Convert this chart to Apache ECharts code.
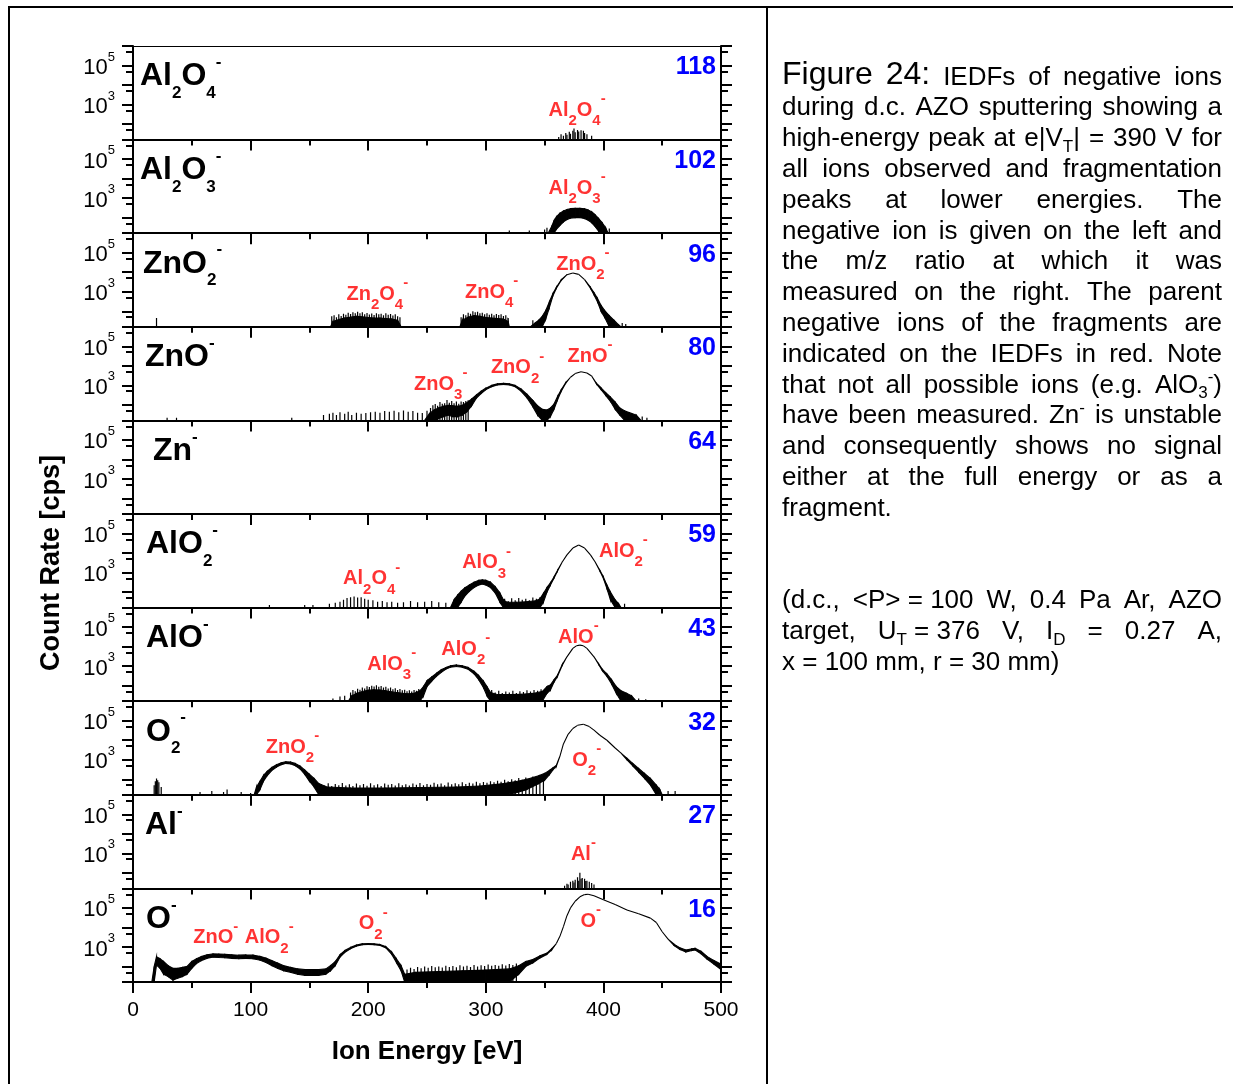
<!DOCTYPE html>
<html><head><meta charset="utf-8">
<script src="https://cdn.jsdelivr.net/npm/echarts@6/dist/echarts.min.js"></script>
<style>html,body{margin:0;padding:0;background:#fff}#c{width:1233px;height:1084px}</style>
</head><body><div id="c"></div>
<script>
// ---------------- DATA ----------------
const energyTicks = [0, 100, 200, 300, 400, 500];
const yLabelValues = [1e3, 1e5];
const yLabelExp = ['3', '5'];
const yMajorTicks = [16, 100, 1e3, 1e4, 1e5, 1e6];
const yMinorTicks = [50, 500, 5e3, 5e4, 5e5];

const ionNames = ['Al{s|2}O{s|4}{u|-}', 'Al{s|2}O{s|3}{u|-}', 'ZnO{s|2}{u|-}', 'ZnO{u|-}', 'Zn{u|-}',
  'AlO{s|2}{u|-}', 'AlO{u|-}', 'O{s|2}{u|-}', 'Al{u|-}', 'O{u|-}'];
const massToCharge = ['118', '102', '96', '80', '64', '59', '43', '32', '27', '16'];

// bands: [energy eV, upper count rate, lower count rate] (lower omitted = same as upper)
const band0 = [];
const band1 = [[353,16,16],[356,35,16],[358,70,16],[360,110,25],[363,170,40],[366,220,60],[369,260,80],[372,290,95],[376,300,100],[380,300,100],[384,285,90],[387,250,75],[390,200,55],[393,140,35],[396,90,20],[399,55,16],[402,30,16],[404,16,16]];
const band2 = [[168,16,16],[170,30,16],[175,38,16],[180,45,16],[185,50,16],[190,55,16],[195,52,16],[200,48,16],[205,45,16],[210,45,16],[215,42,16],[220,40,16],[225,35,16],[228,16,16],
  [278,16,16],[280,35,16],[285,50,16],[290,60,16],[295,55,16],[300,48,16],[305,45,16],[310,42,16],[315,40,16],[319,30,16],[320,16,16],
  [338,16,16],[342,25,16],[345,35,16],[348,55,16],[351,110,40],[354,300,150],[357,800,600],[360,1700,1500],[364,4000,3700],[369,7500],[374,9100],[379,7800],[384,4200],[389,1700,1500],[392,900,700],[395,450,300],[398,200,100],[401,110,50],[405,60,16],[409,35,16],[413,20,16],[415,16,16]];
const band3 = [[248,16,16],[252,35,16],[256,55,16],[260,70,20],[264,85,25],[268,95,30],[272,90,25],[276,85,25],[280,95,30],[284,130,45],[288,200,90],[292,320,220],[296,500,380],[300,720,600],[305,1000,850],[310,1200,1050],[315,1260,1100],[320,1200,1050],[325,1000,850],[330,650,500],[335,350,230],[340,170,80],[344,90,30],[348,60,16],[352,55,16],[355,70,25],[358,110,60],[361,270,180],[364,580,480],[368,1400,1300],[372,2600],[376,4000],[381,5000],[386,4300],[390,3000],[394,1300,1200],[398,750,600],[402,420,300],[406,250,150],[410,140,60],[414,70,30],[418,50,16],[422,40,16],[428,30,16],[432,16,16]];
const band4 = [];
const band5 = [[270,16,16],[273,40,16],[276,70,16],[279,110,30],[282,160,60],[286,230,110],[290,320,170],[294,400,230],[297,420,260],[300,400,230],[304,320,170],[308,190,90],[312,90,30],[315,40,16],[318,30,16],[326,30,16],[334,32,16],[342,35,16],[346,45,16],[349,85,30],[352,170,100],[355,300,230],[358,600,520],[361,1300,1200],[365,3500],[369,8000],[374,18000],[379,25700],[384,18000],[389,8000],[393,3500],[397,1300,1200],[400,600,500],[403,230,150],[406,100,40],[410,40,16],[413,25,16],[415,16,16]];
const band6 = [[183,16,16],[186,30,16],[190,40,16],[195,50,16],[200,58,16],[205,62,16],[210,60,16],[215,55,16],[220,48,16],[225,44,16],[230,40,16],[235,38,16],[240,42,16],[244,55,16],[247,90,30],[250,180,90],[254,280,170],[258,430,300],[262,650,480],[266,850,700],[270,1050,880],[275,1150,950],[280,1050,880],[285,850,700],[290,550,400],[294,330,200],[298,170,80],[301,90,30],[304,45,16],[310,35,16],[320,35,16],[330,36,16],[340,40,16],[348,50,16],[352,90,40],[355,110,60],[358,200,150],[361,350,300],[365,1200,1100],[369,3000],[374,8100],[377,11000],[380,12000],[383,11000],[386,8100],[392,3000],[396,1300,1200],[399,700,600],[403,400,300],[407,200,120],[411,90,40],[415,55,16],[420,40,16],[424,30,16],[428,16,16]];
const band7 = [[103,16,16],[105,40,16],[108,80,30],[111,160,80],[114,250,150],[118,400,280],[122,560,420],[126,700,560],[130,790,650],[134,760,620],[138,650,500],[142,480,340],[146,300,180],[150,180,80],[154,110,40],[158,60,16],[165,40,16],[185,36,16],[215,36,16],[245,38,16],[275,40,16],[295,45,16],[315,60,16],[325,75,20],[335,100,30],[345,150,60],[350,200,90],[354,280,170],[357,380,300],[360,520,460],[363,1500],[366,6500],[370,20000],[374,40000],[378,58000],[383,66000],[388,50000],[392,33000],[397,18000],[403,10000],[410,4000],[415,2200],[420,1200,1000],[425,650,480],[430,360,230],[435,200,110],[440,110,50],[445,50,16],[448,30,16],[450,16,16]];
const band8 = [];
const band9 = [[16,16,16],[18,100,16],[20,320,120],[23,250,80],[26,180,40],[30,110,30],[34,80,20],[38,80,25],[42,90,30],[46,100,40],[50,180,80],[54,250,140],[58,320,200],[63,400,260],[68,440,300],[73,430,290],[78,420,280],[84,400,260],[90,380,250],[96,390,260],[102,380,250],[108,330,210],[113,270,160],[118,200,110],[123,150,80],[128,110,60],[134,90,50],[140,75,40],[146,70,35],[152,70,35],[158,70,35],[164,75,40],[168,110,60],[172,180,110],[176,400,300],[180,650,520],[185,950,820],[190,1250,1100],[195,1450,1300],[200,1500,1350],[205,1450,1300],[210,1350,1200],[215,1050,900],[220,550,420],[224,250,160],[228,110,60],[231,40,16],[240,50,16],[260,55,16],[280,60,16],[300,65,16],[320,75,16],[328,110,40],[334,180,100],[340,230,150],[346,350,270],[352,480,420],[356,800,700],[360,1500],[363,3500],[366,11000],[369,40000],[372,100000],[376,220000],[380,370000],[384,480000],[387,500000],[392,420000],[400,260000],[410,150000],[420,78000],[430,50000],[440,30000],[445,18000],[450,6000],[455,2500],[460,1400,1200],[465,900,750],[470,700,550],[475,800,650],[478,850,700],[483,600,450],[488,330,240],[494,200,130],[500,130,70]];

// noise spikes: [energy eV, count rate]
const spikes0 = [[362,22],[364,30],[366,25],[368,35],[369,28],[371,40],[372,32],[374,45],[375,60],[376,38],[378,50],[379,42],[381,48],[383,45],[384,35],[386,30],[390,25]];
const spikes1 = [[320,22],[337,22],[350,25],[352,30],[405,28]];
const spikes2 = [[20,45],[169,55],[171,62],[173,50],[175,70],[177,58],[179,75],[181,66],[183,85],[185,72],[187,90],[189,78],[191,95],[193,80],[195,88],[197,70],[199,82],[201,68],[203,76],[205,64],[207,80],[209,70],[211,74],[213,62],[215,78],[217,66],[219,72],[221,60],[223,70],[225,55],[227,50],
  [279,50],[281,70],[283,62],[285,85],[287,75],[289,100],[291,88],[293,95],[295,78],[297,85],[299,70],[301,80],[303,66],[305,74],[307,62],[309,72],[311,64],[313,70],[315,58],[317,62],[319,45],[340,35],[416,25],[419,22]];
const spikes3 = [[29,22],[37,22],[135,22],[162,30],[167,35],[170,40],[173,30],[176,42],[180,35],[183,45],[186,30],[190,40],[194,35],[198,38],[202,42],[206,45],[210,40],[214,48],[218,45],[222,50],[226,42],[230,52],[234,45],[238,48],[242,40],[246,38],
  [250,50],[253,70],[255,95],[257,110],[259,90],[261,140],[263,115],[265,120],[267,180],[269,130],[271,160],[273,120],[275,150],[277,115],[279,150],[281,140],[283,160],[285,170],[433,25],[437,22]];
const spikes4 = [];
const spikes5 = [[116,22],[146,22],[153,22],[167,25],[172,28],[176,32],[179,40],[182,50],[185,55],[188,60],[191,52],[194,55],[197,45],[200,40],[204,38],[208,32],[212,35],[216,30],[220,32],[225,28],[230,30],[236,35],[242,30],[248,32],[254,35],[260,30],[266,28],
  [316,45],[319,35],[322,48],[325,38],[328,50],[331,40],[334,46],[337,38],[340,52],[343,45],[346,55],[418,25]];
const spikes6 = [[170,22],[176,28],[180,30],[185,45],[187,60],[189,52],[191,70],[193,62],[195,80],[197,72],[199,92],[201,85],[203,100],[205,90],[207,105],[209,88],[211,96],[213,80],[215,88],[217,72],[219,80],[221,66],[223,74],[225,60],[227,68],[229,58],[231,62],[233,52],[235,58],[237,50],[239,60],[241,55],[243,68],
  [305,60],[308,45],[311,55],[314,42],[317,50],[320,45],[323,55],[326,42],[329,52],[332,48],[335,58],[338,50],[341,60],[344,55],[347,65],[430,22],[436,20]];
const spikes7 = [[18,50],[19,80],[20,110],[21,90],[22,70],[24,40],[57,22],[67,25],[77,22],[80,30],[92,22],[100,20],
  [160,55],[163,48],[166,62],[169,45],[172,58],[175,50],[178,65],[181,48],[184,55],[187,45],[190,60],[193,50],[196,58],[199,46],[202,62],[205,50],[208,55],[211,45],[214,60],[217,52],[220,58],[223,48],[226,62],[229,50],[232,56],[235,48],[238,60],[241,52],[244,64],[247,50],[250,58],[253,52],[256,66],[259,55],[262,60],[265,50],[268,68],[271,55],[274,62],[277,56],[280,70],[283,58],[286,66],[289,60],[292,75],[295,62],[298,72],[301,66],[304,80],[307,70],[310,85],[313,75],[316,95],[319,80],[322,100],[325,90],[328,115],[331,95],[334,125],[337,110],[340,140],[343,120],[346,170],[349,150],[455,25],[461,25]];
const spikes8 = [[367,22],[369,28],[370,25],[372,35],[374,40],[375,32],[376,45],[378,60],[379,40],[380,100],[381,50],[382,55],[384,50],[385,38],[386,40],[388,35],[390,30],[392,25]];
const spikes9 = [[233,70],[236,85],[239,75],[242,95],[245,80],[248,100],[251,85],[254,105],[257,90],[260,100],[263,88],[266,110],[269,95],[272,105],[275,92],[278,115],[281,100],[284,110],[287,95],[290,120],[293,100],[296,115],[299,105],[302,125],[305,108],[308,120],[311,110],[314,130],[317,112],[320,135],[323,118],[326,140]];

// red fragment-parent labels: [energy eV, count rate, text]
const frag0 = [[377.6, 500, 'Al{s|2}O{s|4}{u|-}']];
const frag1 = [[377.6, 3240, 'Al{s|2}O{s|3}{u|-}']];
const frag2 = [[207.8, 720, 'Zn{s|2}O{s|4}{u|-}'], [305, 890, 'ZnO{s|4}{u|-}'], [382.6, 24500, 'ZnO{s|2}{u|-}']];
const frag3 = [[261.7, 1070, 'ZnO{s|3}{u|-}'], [327, 7800, 'ZnO{s|2}{u|-}'], [388.6, 30000, 'ZnO{u|-}']];
const frag4 = [];
const frag5 = [[203, 470, 'Al{s|2}O{s|4}{u|-}'], [300.7, 3100, 'AlO{s|3}{u|-}'], [417, 12000, 'AlO{s|2}{u|-}']];
const frag6 = [[220, 1180, 'AlO{s|3}{u|-}'], [283, 6900, 'AlO{s|2}{u|-}'], [378.7, 31000, 'AlO{u|-}']];
const frag7 = [[135.6, 4500, 'ZnO{s|2}{u|-}'], [385.8, 910, 'O{s|2}{u|-}']];
const frag8 = [[383, 910, 'Al{u|-}']];
const frag9 = [[70.4, 2900, 'ZnO{u|-}'], [115.8, 2900, 'AlO{s|2}{u|-}'], [204.3, 15200, 'O{s|2}{u|-}'], [389.3, 20600, 'O{u|-}']];

const captionLines = [
  '{big|Figure} {big|24:} IEDFs of negative ions',
  'during d.c. AZO sputtering showing a',
  'high-energy peak at e|V{t|T}| = 390 V for',
  'all ions observed and fragmentation',
  'peaks at lower energies. The',
  'negative ion is given on the left and',
  'the m/z ratio at which it was',
  'measured on the right. The parent',
  'negative ions of the fragments are',
  'indicated on the IEDFs in red. Note',
  'that not all possible ions (e.g. AlO{t|3}{p|-})',
  'have been measured. Zn{p|-} is unstable',
  'and consequently shows no signal',
  'either at the full energy or as a',
  'fragment.',
  '',
  '',
  '(d.c., <P>~=~100 W, 0.4 Pa Ar, AZO',
  'target, U{t|T}~=~376 V, I{t|D} = 0.27 A,',
  'x = 100 mm, r = 30 mm)'
];
const captionJustify = [1,1,1,1,1,1,1,1,1,1,1,1,1,1,0,0,0,1,1,0];

// ---------------- LAYOUT / STYLE ----------------
const bands = [band0,band1,band2,band3,band4,band5,band6,band7,band8,band9];
const spikes = [spikes0,spikes1,spikes2,spikes3,spikes4,spikes5,spikes6,spikes7,spikes8,spikes9];
const frags = [frag0,frag1,frag2,frag3,frag4,frag5,frag6,frag7,frag8,frag9];
const nameX = [140,140,143,145,153,146,146,146,145,146];

const FONT = 'Arial';
const RED = '#ff0000', BLUE = '#0000ff';
const TOP = 46, PH = 93.6, LEFT = 133, PW = 588;
const YMIN = 16, YMAX = 1e6;

function rt(size, weight, color, pad) {
  return {fontSize: size, fontWeight: weight, fontFamily: FONT, color: color, fill: color, padding: pad};
}
const redRich = { s: rt(15, 'bold', RED, [21,0,0,0]), u: rt(15, 'bold', RED, [0,0,23,0]) };
const nameRich = { s: rt(17, 'bold', '#000', [34,0,0,0]), u: rt(17, 'bold', '#000', [0,0,28,0]) };
const yLabRich = { m: rt(22, 'normal', '#000', [5,0,0,0]), u: rt(13, 'normal', '#000', [0,0,17,0]) };

const grids = [], xAxes = [], yAxes = [], series = [], elements = [];

function bandItems(arr) {
  const out = [];
  for (let k = 0; k < arr.length - 1; k++) {
    const a = arr[k], b = arr[k + 1];
    out.push([a[0], a[1], a.length > 2 ? a[2] : a[1], b[0], b[1], b.length > 2 ? b[2] : b[1]]);
  }
  return out;
}
function renderBand(params, api) {
  const p1 = api.coord([api.value(0), api.value(1)]);
  const p2 = api.coord([api.value(3), api.value(4)]);
  const p3 = api.coord([api.value(3), api.value(5)]);
  const p4 = api.coord([api.value(0), api.value(2)]);
  return {type: 'polygon', shape: {points: [p1, p2, p3, p4]}, style: {fill: '#000', stroke: '#000', lineWidth: 1.1}};
}
function renderSpike(params, api) {
  const a = api.coord([api.value(0), YMIN]);
  const b = api.coord([api.value(0), api.value(1)]);
  return {type: 'line', shape: {x1: a[0], y1: a[1], x2: b[0], y2: b[1]}, style: {stroke: '#000', lineWidth: 1.2}};
}

function yAxis(i, pos, ticks, len, withLabels, showLine) {
  return {
    type: 'log', logBase: 10, gridIndex: i, position: pos, min: YMIN, max: YMAX,
    axisLine: {show: showLine, lineStyle: {color: '#000', width: 2}},
    axisTick: {show: true, inside: false, length: len, customValues: ticks, lineStyle: {color: '#000', width: 2}},
    axisLabel: withLabels ? {
      show: true, customValues: yLabelValues, margin: 18,
      formatter: v => '{m|10}{u|' + yLabelExp[yLabelValues.indexOf(v)] + '}',
      rich: yLabRich
    } : {show: false},
    splitLine: {show: false}, minorTick: {show: false}, minorSplitLine: {show: false}
  };
}

for (let i = 0; i < 10; i++) {
  const top = TOP + PH * i;
  grids.push({left: LEFT, top: top, width: PW, height: PH, containLabel: false, outerBoundsMode: 'none'});
  xAxes.push({
    type: 'value', gridIndex: i, position: 'bottom', min: 0, max: 500, interval: 100,
    axisLine: {show: true, onZero: false, lineStyle: {color: '#000', width: 2}},
    axisTick: {show: true, inside: false, length: 11, lineStyle: {color: '#000', width: 2}},
    minorTick: {show: true, splitNumber: 2, length: 6, lineStyle: {color: '#000', width: 2}},
    axisLabel: i === 9 ? {show: true, margin: 18, fontSize: 21, fontFamily: FONT, color: '#000',
      customValues: energyTicks, formatter: v => String(v)} : {show: false},
    splitLine: {show: false}, minorSplitLine: {show: false}
  });
  yAxes.push(yAxis(i, 'left', yMajorTicks, 11, true, true));
  yAxes.push(yAxis(i, 'left', yMinorTicks, 7, false, false));
  yAxes.push(yAxis(i, 'right', yMajorTicks, 11, false, true));
  yAxes.push(yAxis(i, 'right', yMinorTicks, 7, false, false));

  if (bands[i].length) series.push({
    type: 'custom', xAxisIndex: i, yAxisIndex: 4 * i, data: bandItems(bands[i]),
    encode: {x: [0, 3], y: [1, 2, 4, 5]}, renderItem: renderBand, silent: true, animation: false, clip: true
  });
  if (spikes[i].length) series.push({
    type: 'custom', xAxisIndex: i, yAxisIndex: 4 * i, data: spikes[i],
    encode: {x: 0, y: 1}, renderItem: renderSpike, silent: true, animation: false, clip: true
  });
  if (frags[i].length) series.push({
    type: 'scatter', xAxisIndex: i, yAxisIndex: 4 * i, symbolSize: 0.1, silent: true, animation: false,
    itemStyle: {color: 'transparent'},
    data: frags[i].map(f => ({value: [f[0], f[1]], name: f[2]})),
    label: {show: true, position: 'inside', formatter: p => p.name, fontSize: 20, fontWeight: 'bold',
      fontFamily: FONT, color: RED, textBorderWidth: 0, rich: redRich}
  });

  elements.push({type: 'text', x: nameX[i], y: top + 30.5, silent: true,
    style: {text: ionNames[i], fontSize: 32, fontWeight: 'bold', fontFamily: FONT, fill: '#000',
      align: 'left', verticalAlign: 'middle', rich: nameRich}});
  elements.push({type: 'text', x: 716, y: top + 21.5, silent: true,
    style: {text: massToCharge[i], fontSize: 25, fontWeight: 'bold', fontFamily: FONT, fill: BLUE,
      align: 'right', verticalAlign: 'middle'}});
}
// thin top border of the first panel
xAxes.push({type: 'value', gridIndex: 0, position: 'top', min: 0, max: 500,
  axisLine: {show: true, onZero: false, lineStyle: {color: '#000', width: 1}},
  axisTick: {show: false}, axisLabel: {show: false}, splitLine: {show: false}});

// axis titles
elements.push({type: 'text', x: 427, y: 1052, silent: true,
  style: {text: 'Ion Energy [eV]', fontSize: 26, fontWeight: 'bold', fontFamily: FONT, fill: '#000', align: 'center', verticalAlign: 'middle'}});
elements.push({type: 'text', x: 52, y: 563, rotation: Math.PI / 2, silent: true,
  style: {text: 'Count Rate [cps]', fontSize: 27, fontWeight: 'bold', fontFamily: FONT, fill: '#000', align: 'center', verticalAlign: 'middle'}});

// frame
const frameStyle = {stroke: '#000', lineWidth: 2};
elements.push({type: 'line', silent: true, shape: {x1: 8, y1: 7, x2: 1233, y2: 7}, style: frameStyle});
elements.push({type: 'line', silent: true, shape: {x1: 9, y1: 6, x2: 9, y2: 1084}, style: frameStyle});
elements.push({type: 'line', silent: true, shape: {x1: 767, y1: 6, x2: 767, y2: 1084}, style: frameStyle});

// caption (justified)
const SZ = {n: 26, big: 32, t: 17, p: 17};
const capRich = {
  big: {fontSize: 32, fontFamily: FONT, fill: '#000', padding: [0,0,4,0]},
  t: {fontSize: 17, fontFamily: FONT, fill: '#000', padding: [16,0,0,0]},
  p: {fontSize: 17, fontFamily: FONT, fill: '#000', padding: [0,0,16,0]}
};
const mctx = document.createElement('canvas').getContext('2d');
function segs(word) {
  const out = []; const re = /\{(\w+)\|([^}]*)\}/g; let last = 0, m;
  while ((m = re.exec(word))) {
    if (m.index > last) out.push([word.slice(last, m.index), 'n']);
    out.push([m[2], m[1]]); last = re.lastIndex;
  }
  if (last < word.length) out.push([word.slice(last), 'n']);
  return out;
}
function wordWidth(word) {
  let w = 0;
  for (const [t, s] of segs(word)) { mctx.font = SZ[s] + 'px ' + FONT; w += mctx.measureText(t).width; }
  return w;
}
const CAP_L = 782, CAP_R = 1222, CAP_Y0 = 77.5, CAP_DY = 30.8;
captionLines.forEach((line, li) => {
  if (!line) return;
  const words = line.split(' ').map(w => w.replace(/~/g, ' '));
  const widths = words.map(wordWidth);
  const total = widths.reduce((a, b) => a + b, 0);
  mctx.font = SZ.n + 'px ' + FONT;
  let gap = mctx.measureText(' ').width;
  if (captionJustify[li] && words.length > 1) gap = (CAP_R - CAP_L - total) / (words.length - 1);
  let x = CAP_L;
  words.forEach((w, k) => {
    elements.push({type: 'text', x: x, y: CAP_Y0 + CAP_DY * li, silent: true,
      style: {text: w, fontSize: 26, fontFamily: FONT, fill: '#000', align: 'left', verticalAlign: 'middle', rich: capRich}});
    x += widths[k] + gap;
  });
});

const chart = echarts.init(document.getElementById('c'), null, {renderer: 'canvas'});
chart.setOption({
  animation: false,
  backgroundColor: '#fff',
  grid: grids, xAxis: xAxes, yAxis: yAxes, series: series,
  graphic: {elements: elements}
});
</script></body></html>
